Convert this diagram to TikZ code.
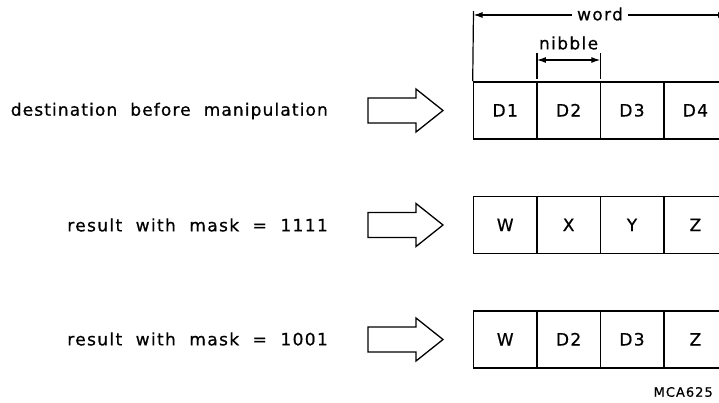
\documentclass[tikz,border=0pt]{standalone}
\usepackage{fontspec}
\setmainfont[LetterSpace=8,WordSpace=2,FakeBold=0.7]{DejaVu Sans}
\usetikzlibrary{arrows.meta}
\begin{document}
\begin{tikzpicture}[x=1pt,y=-1pt,
  cell/.style={draw,line width=1.6pt,minimum width=63.4pt,minimum height=57pt,inner sep=0pt,text height=12pt,text depth=0pt,font=\fontsize{17}{17}\selectfont},
  lbl/.style={anchor=east,inner sep=0pt,font=\fontsize{17}{17}\selectfont},
  blockarrow/.style={draw,line width=1.3pt,line join=miter},
  dim/.style={line width=1.2pt,{Latex[length=9pt,width=6pt]}-{Latex[length=9pt,width=6pt]}},
  ext/.style={line width=1.2pt},
  small/.style={inner sep=0pt,font=\fontsize{17}{17}\selectfont}]
\useasboundingbox (0,0) rectangle (719,402);
% row labels
\node[lbl] (l1) at (328,111) {\addfontfeature{LetterSpace=6.6}destination before manipulation};
\node[lbl] (l2) at (328,225) {result with mask = 1111};
\node[lbl] (l3) at (328,339) {result with mask = 1001};
% block arrows
\foreach \n/\y in {a1/110.5,a2/225,a3/339.5}{
  \coordinate (\n) at (368,\y);
  \draw[blockarrow] (\n) ++(0,-12.5) -- ++(48,0) -- ++(0,-9) -- ++(27,21.5) -- ++(-27,21.5) -- ++(0,-9) -- ++(-48,0) -- cycle;
}
% cells
\foreach \r/\y/\ta/\tb/\tc/\td in {1/110.5/D1/D2/D3/D4, 2/225/W/X/Y/Z, 3/339.5/W/D2/D3/Z}{
  \node[cell] (c\r1) at (505.2,\y) {\ta};
  \node[cell] (c\r2) at (568.6,\y) {\tb};
  \node[cell] (c\r3) at (632.0,\y) {\tc};
  \node[cell] (c\r4) at (695.4,\y) {\td};
}
% word dimension
\coordinate (wlt) at (473.5,11);
\coordinate (wrt) at (727,11);
\coordinate (wl) at (473.5,15);
\coordinate (wr) at (727,15);
\draw[ext] (wlt) -- (c11.north west);
\draw[ext] (wrt) -- (c14.north east);
\draw[dim] (wl) -- (wr);
\node[small,fill=white,inner xsep=5pt,inner ysep=2pt] (word) at (600,14) {word};
% nibble dimension
\coordinate (nlt) at (536.9,53);
\coordinate (nrt) at (600.3,53);
\coordinate (nlb) at (536.9,79);
\coordinate (nrb) at (600.3,79);
\coordinate (nl) at (536.9,60);
\coordinate (nr) at (600.3,60);
\draw[ext] (nlt) -- (nlb);
\draw[ext] (nrt) -- (nrb);
\draw[dim] (nl) -- (nr);
\node[small] (nib) at (568.6,43) {nibble};
% tag
\node[inner sep=0pt,font=\fontsize{13}{13}\selectfont,anchor=east] (tag) at (713,392) {MCA625};
\end{tikzpicture}
\end{document}
